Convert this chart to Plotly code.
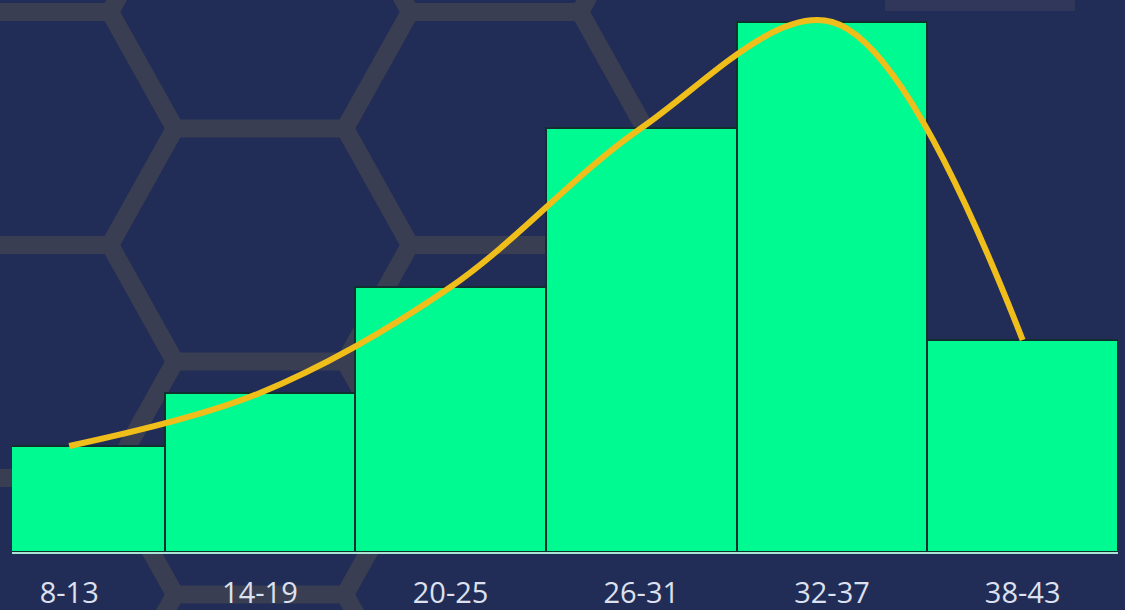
import plotly.graph_objects as go

# ---- data ----
categories = ["8-13", "14-19", "20-25", "26-31", "32-37", "38-43"]
counts = [2, 3, 5, 8, 10, 4]

# ---- layout constants ----
W, H = 1125, 610
ML, MR, MT, MB = 12, 7, 0, 58
PW, PH = W - ML - MR, H - MT - MB

BG = "#212d56"
HEX = "#3a3e52"
HEX_FAINT = "#31375a"
BAR = "#00fa92"
BAR_EDGE = "#10302f"
CURVE = "#f0be1a"
TICK = "#dde0ef"


def to_paper(x, y):
    return (x - ML) / PW, (H - MB - y) / PH


# decorative hexagon background (pixel geometry -> paper coords)
a, b, h, P = 170, 65, 116.5, 470
segments = []
for k in range(-1, 7):
    y = 12 + k * h
    for m in range(-1, 4):
        if k % 2 == 0:
            x0, x1 = -60 + m * P, 110 + m * P
            segments.append((x0, y, x1, y))
            for dy in (-h, h):
                segments.append((x1, y, x1 + b, y + dy))
                segments.append((x0, y, x0 - b, y + dy))
        else:
            segments.append((175 + m * P, y, 345 + m * P, y))


def keep(seg):
    x0, y0, x1, y1 = seg
    if min(x0, x1) >= 590:
        return False
    if max(y0, y1) > 560 and min(x0, x1) > 420:
        return False
    return True


segments = [(s, HEX, 18) for s in segments if keep(s)]
segments.append(((885, 4, 1075, 4), HEX_FAINT, 14))  # faint edge top right

shapes = []
for (x0, y0, x1, y1), col, wd in segments:
    px0, py0 = to_paper(x0, y0)
    px1, py1 = to_paper(x1, y1)
    shapes.append(dict(type="line", xref="paper", yref="paper",
                       x0=px0, y0=py0, x1=px1, y1=py1,
                       line=dict(color=col, width=wd), layer="below"))

fig = go.Figure()
fig.add_trace(go.Bar(
    x=categories, y=counts,
    marker=dict(color=BAR, line=dict(color=BAR_EDGE, width=2)),
    showlegend=False, hoverinfo="skip",
))
fig.add_trace(go.Scatter(
    x=categories, y=counts, mode="lines",
    line=dict(shape="spline", color=CURVE, width=6),
    showlegend=False, hoverinfo="skip",
))

fig.update_layout(
    width=W, height=H,
    margin=dict(l=ML, r=MR, t=MT, b=MB),
    paper_bgcolor=BG, plot_bgcolor="rgba(0,0,0,0)",
    bargap=0,
    shapes=shapes,
    xaxis=dict(type="category", range=[-0.3, 5.5], showgrid=False,
               zeroline=False, showline=True, linecolor="#a9e6d6",
               linewidth=2, ticks="", ticklabelstandoff=14,
               tickfont=dict(family="Open Sans", size=29, color=TICK)),
    yaxis=dict(range=[0, 552 / 53], visible=False, showgrid=False,
               zeroline=False),
)

fig.write_html("out.html")
